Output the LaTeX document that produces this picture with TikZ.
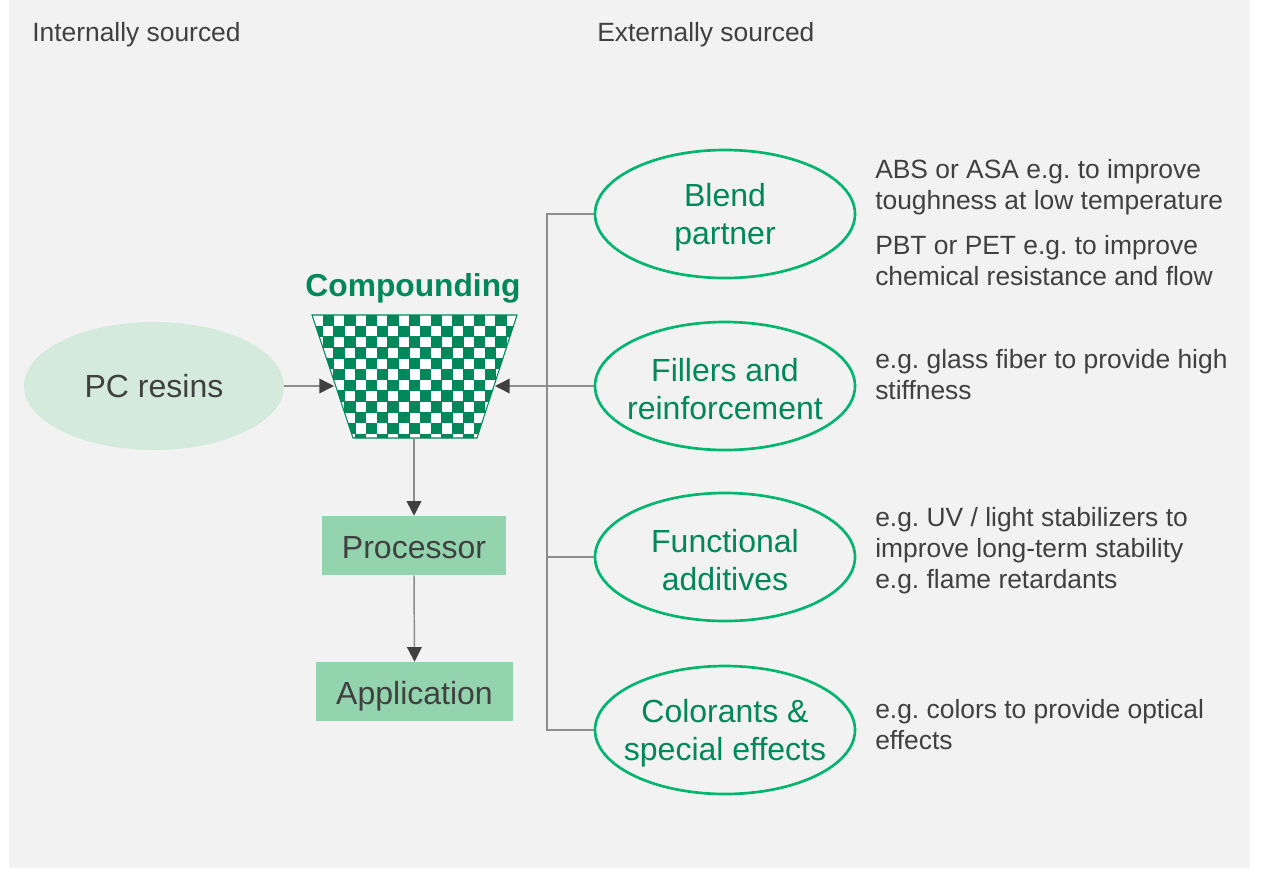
\documentclass[tikz,border=0pt]{standalone}
\usepackage{fontspec}
\setmainfont{Liberation Sans}
\usetikzlibrary{shapes.geometric,arrows.meta}
\definecolor{bg}{HTML}{F2F2F2}
\definecolor{txt}{HTML}{404040}
\definecolor{dg}{HTML}{00875A}
\definecolor{eg}{HTML}{00B56E}
\definecolor{pcfill}{HTML}{D3EADD}
\definecolor{boxfill}{HTML}{93D3AE}
\definecolor{ln}{HTML}{8C8C8C}
\definecolor{tipc}{HTML}{404040}
\frenchspacing
\tikzset{
  src/.style={ellipse, draw=eg, line width=2pt, minimum width=195pt, minimum height=96pt, inner sep=0pt},
  srctext/.style={text=dg, font=\fontsize{24}{28.8}\selectfont, align=center, yshift=-2.5pt},
  note/.style={text=txt, font=\fontsize{19.8}{23.25}\selectfont, align=left, anchor=north west, inner sep=0pt},
  head/.style={text=txt, font=\fontsize{19.8}{23.25}\selectfont, anchor=base west, inner sep=0pt},
  stepbox/.style={rectangle, fill=boxfill, text=txt, font=\fontsize{24}{28}\selectfont, minimum height=44.25pt, inner sep=0pt, text height=19.5pt, text depth=0pt},
  conn/.style={draw=ln, line width=1.1pt},
  arr/.style={conn, -{Triangle[length=11pt,width=11pt,color=tipc]}},
}
\begin{document}
\begin{tikzpicture}[x=0.75pt,y=-0.75pt]
\useasboundingbox (0,0) rectangle (1262,868);
\fill[bg] (9,0) rectangle (1250,868);

% headings
\node[head] (hin) at (32,41) {Internally sourced};
\node[head] (hex) at (597,41) {Externally sourced};

% internal chain
\node[ellipse, fill=pcfill, minimum width=195pt, minimum height=96pt, inner sep=0pt,
      text=txt, font=\fontsize{24}{28}\selectfont] (pc) at (154,386) {PC resins};

\node[text=dg, font=\bfseries\fontsize{23.8}{28}\selectfont, inner sep=0pt] (comp) at (413,288) {Compounding};

% checkerboard trapezoid
\begin{scope}
  \clip (312,315) -- (517,315) -- (477,438) -- (353,438) -- cycle;
  \fill[white] (300,310) rectangle (530,445);
  \foreach \i in {0,...,19}{
    \foreach \j in {0,...,11}{
      \ifodd\numexpr\i+\j\relax
        \fill[dg] (311.7+\i*10.8,314.7+\j*10.8) rectangle ++(11.4,11.4);
      \fi
    }
  }
\end{scope}
\draw[dg, line width=0.8pt] (312,315) -- (517,315) -- (477,438) -- (353,438) -- cycle;
\coordinate (compL) at (334,386);
\coordinate (compR) at (495,386);
\coordinate (compB) at (414,438);

\node[stepbox, minimum width=138pt] (proc) at (414,545.5) {Processor};
\node[stepbox, minimum width=147.75pt] (app) at (414.5,691.5) {Application};

\draw[arr] (pc.east) -- (compL);
\draw[arr] (compB) -- (proc.north);
\draw[arr] (proc.south) -- (app.north);

% external sources
\node[src, label={[srctext]center:Blend\\partner}] (blend) at (725,214) {};
\node[src, label={[srctext]center:Fillers and\\reinforcement}] (fill) at (725,386) {};
\node[src, label={[srctext]center:Functional\\additives}] (func) at (725,557) {};
\node[src, label={[srctext]center:Colorants \&\\special effects}] (col) at (725,730) {};

\coordinate (bt) at (547,214);
\coordinate (bb) at (547,730);
\draw[conn] (blend.west) -- (bt) -- (bb) -- (col.west);
\draw[conn] (547,557) -- (func.west);
\draw[arr] (fill.west) -- (compR);

% notes
\node[note] (n1) at (875,178-21.7) {\strut ABS or ASA e.g. to improve\\toughness at low temperature};
\node[note] (n2) at (875,254-21.7) {\strut PBT or PET e.g. to improve\\chemical resistance and flow};
\node[note] (n3) at (875,368-21.7) {\strut e.g. glass fiber to provide high\\stiffness};
\node[note] (n4) at (875,526-21.7) {\strut e.g. UV / light stabilizers to\\improve long-term stability\\e.g. flame retardants};
\node[note] (n5) at (875,718-21.7) {\strut e.g. colors to provide optical\\effects};
\end{tikzpicture}
\end{document}
